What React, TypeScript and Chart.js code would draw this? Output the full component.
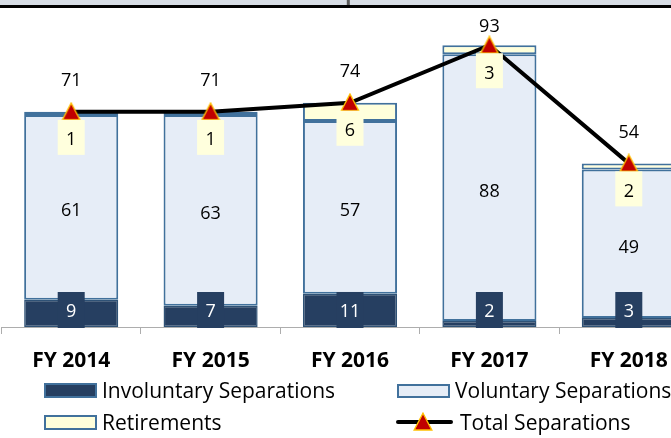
import React, { useEffect, useRef } from "react";
import { Chart, registerables } from "chart.js";

Chart.register(...registerables);

// ---------- data ----------
const categories = ["FY 2014", "FY 2015", "FY 2016", "FY 2017", "FY 2018"];
const involuntary = [9, 7, 11, 2, 3];
const voluntary = [61, 63, 57, 88, 49];
const retirements = [1, 1, 6, 3, 2];
const totals = [71, 71, 74, 93, 54];
const seriesNames = [
  "Involuntary Separations",
  "Voluntary Separations",
  "Retirements",
  "Total Separations",
];
const titleText = "Total Separations";

// ---------- styles ----------
const NAVY = "#263F61";
const VOL_FILL = "#E6EDF7";
const RET_FILL = "#FFFFDB";
const BAR_BORDER = "#41719C";
const LABEL_BOX_YELLOW = "#FFFFDD";
const MARKER_RED = "#C00000";
const MARKER_GOLD = "#FFC000";
const AXIS_GRAY = "#ADADAD";
const FONT = '"Open Sans", "DejaVu Sans", sans-serif';
const TXT_DY = 2;

function makeMarker(): HTMLCanvasElement {
  const c = document.createElement("canvas");
  c.width = 20;
  c.height = 20;
  const g = c.getContext("2d")!;
  g.beginPath();
  g.moveTo(10, 1.2);
  g.lineTo(18.8, 18);
  g.lineTo(1.2, 18);
  g.closePath();
  g.fillStyle = MARKER_RED;
  g.fill();
  g.lineWidth = 1.4;
  g.strokeStyle = MARKER_GOLD;
  g.lineJoin = "miter";
  g.stroke();
  return c;
}

const overlayPlugin = {
  id: "overlay",
  afterDatasetsDraw(chart: any) {
    const ctx: CanvasRenderingContext2D = chart.ctx;
    const area = chart.chartArea;
    ctx.save();
    ctx.textAlign = "center";
    ctx.textBaseline = "middle";
    ctx.font = `18px ${FONT}`;

    const m0 = chart.getDatasetMeta(0);
    const m1 = chart.getDatasetMeta(1);
    const m2 = chart.getDatasetMeta(2);
    const m3 = chart.getDatasetMeta(3);

    // involuntary labels (navy boxes, white text)
    m0.data.forEach((el: any, i: number) => {
      const p = el.getProps(["x", "y", "base"], true);
      const ty = Math.min((p.y + p.base) / 2 + 1, p.base - 17);
      ctx.fillStyle = NAVY;
      ctx.fillRect(p.x - 13.5, ty - 18, 27, 36);
      ctx.fillStyle = "#FFFFFF";
      ctx.fillText(String(involuntary[i]), p.x, ty + TXT_DY);
    });

    // voluntary labels
    m1.data.forEach((el: any, i: number) => {
      const p = el.getProps(["x", "y", "base"], true);
      const ty = (p.y + p.base) / 2 + 2;
      ctx.fillStyle = "#000000";
      ctx.fillText(String(voluntary[i]), p.x, ty + TXT_DY);
    });

    // retirement labels (yellow boxes)
    m2.data.forEach((el: any, i: number) => {
      const p = el.getProps(["x", "y", "base"], true);
      const ty = p.y + 25.5;
      ctx.fillStyle = LABEL_BOX_YELLOW;
      ctx.fillRect(p.x - 13.5, ty - 17.5, 27, 35);
      ctx.fillStyle = "#000000";
      ctx.fillText(String(retirements[i]), p.x, ty + 1 + TXT_DY);
    });

    // total labels above points
    m3.data.forEach((el: any, i: number) => {
      const p = el.getProps(["x", "y"], true);
      const ty = Math.max(p.y - 33, area.top + 1);
      ctx.fillStyle = "#000000";
      ctx.fillText(String(totals[i]), p.x, ty + TXT_DY);
    });
    ctx.restore();
  },
  afterDraw(chart: any) {
    const ctx: CanvasRenderingContext2D = chart.ctx;
    const W = chart.width;
    ctx.save();
    // title band (cropped)
    ctx.fillStyle = "#D6DCE4";
    ctx.fillRect(0, 0, W, 5);
    ctx.save();
    ctx.beginPath();
    ctx.rect(0, 0, W, 5);
    ctx.clip();
    ctx.fillStyle = "#595959";
    ctx.font = `bold 20px ${FONT}`;
    ctx.textAlign = "center";
    ctx.textBaseline = "alphabetic";
    ctx.fillText(titleText, 354, -0.5);
    ctx.restore();
    ctx.fillStyle = "#000000";
    ctx.fillRect(0, 5, W, 3);

    // legend
    ctx.font = `21px ${FONT}`;
    ctx.textAlign = "left";
    ctx.textBaseline = "middle";
    ctx.lineWidth = 2;

    // Involuntary
    ctx.fillStyle = NAVY;
    ctx.fillRect(44, 383, 53, 15);
    ctx.strokeStyle = BAR_BORDER;
    ctx.strokeRect(45, 384, 51, 13);
    ctx.fillStyle = "#000000";
    ctx.fillText(seriesNames[0], 102, 390 + TXT_DY);

    // Voluntary
    ctx.fillStyle = VOL_FILL;
    ctx.fillRect(397, 384, 53, 14);
    ctx.strokeStyle = BAR_BORDER;
    ctx.strokeRect(398, 385, 51, 12);
    ctx.fillStyle = "#000000";
    ctx.fillText(seriesNames[1], 455, 390 + TXT_DY);

    // Retirements
    ctx.fillStyle = RET_FILL;
    ctx.fillRect(44, 415, 53, 15);
    ctx.strokeStyle = BAR_BORDER;
    ctx.strokeRect(45, 416, 51, 13);
    ctx.fillStyle = "#000000";
    ctx.fillText(seriesNames[2], 102, 422 + TXT_DY);

    // Total
    ctx.strokeStyle = "#000000";
    ctx.lineWidth = 4;
    ctx.lineCap = "round";
    ctx.beginPath();
    ctx.moveTo(398, 422);
    ctx.lineTo(451, 422);
    ctx.stroke();
    const mk = chart.$marker as HTMLCanvasElement;
    if (mk) ctx.drawImage(mk, 423 - 10, 422 - 10);
    ctx.fillStyle = "#000000";
    ctx.fillText(seriesNames[3], 460, 422 + TXT_DY);
    ctx.restore();
  },
};

export default function App() {
  const ref = useRef<HTMLCanvasElement>(null);
  useEffect(() => {
    const marker = makeMarker();
    const chart: any = new Chart(ref.current!, {
      type: "bar",
      data: {
        labels: categories,
        datasets: [
          {
            type: "bar",
            label: seriesNames[0],
            data: involuntary,
            backgroundColor: NAVY,
            borderColor: "#2F5276",
            borderWidth: 1.5,
            borderSkipped: false,
            stack: "bars",
            order: 1,
            barPercentage: 0.675,
            categoryPercentage: 1,
          },
          {
            type: "bar",
            label: seriesNames[1],
            data: voluntary,
            backgroundColor: VOL_FILL,
            borderColor: BAR_BORDER,
            borderWidth: 2,
            borderSkipped: false,
            stack: "bars",
            order: 1,
            barPercentage: 0.675,
            categoryPercentage: 1,
          },
          {
            type: "bar",
            label: seriesNames[2],
            data: retirements,
            backgroundColor: RET_FILL,
            borderColor: BAR_BORDER,
            borderWidth: 2,
            borderSkipped: false,
            stack: "bars",
            order: 1,
            barPercentage: 0.675,
            categoryPercentage: 1,
          },
          {
            type: "line",
            label: seriesNames[3],
            data: totals,
            borderColor: "#000000",
            borderWidth: 4,
            tension: 0,
            pointStyle: marker,
            pointRadius: 10,
            pointHoverRadius: 10,
            stack: "total",
            order: 0,
          } as any,
        ],
      },
      options: {
        animation: false,
        responsive: false,
        devicePixelRatio: 1,
        events: [],
        layout: {
          autoPadding: false,
          padding: { left: 1.5, right: 21.5, top: 24, bottom: 71 },
        },
        plugins: {
          legend: { display: false },
          tooltip: { enabled: false },
          title: { display: false },
        },
        scales: {
          x: {
            stacked: true,
            offset: true,
            afterFit: (s: any) => {
              s.height = 40;
              s.paddingLeft = 0;
              s.paddingRight = 0;
            },
            grid: {
              offset: true,
              drawOnChartArea: false,
              drawTicks: true,
              tickLength: 7,
              color: AXIS_GRAY,
              tickColor: AXIS_GRAY,
            },
            border: { display: true, color: AXIS_GRAY, width: 1 },
            ticks: {
              color: "#000000",
              padding: 14,
              font: { family: FONT, size: 21, weight: "bold" },
              maxRotation: 0,
              autoSkip: false,
            },
          },
          y: {
            stacked: true,
            display: false,
            min: 0,
            max: 100,
          },
        },
      },
      plugins: [overlayPlugin],
    });
    chart.$marker = marker;
    chart.draw();
    return () => chart.destroy();
  }, []);
  return (
    <div
      style={{
        position: "absolute",
        left: 0,
        top: 0,
        width: 671,
        height: 438,
        overflow: "hidden",
        background: "#ffffff",
      }}
    >
      <canvas
        ref={ref}
        width={720}
        height={438}
        style={{ display: "block", width: 720, height: 438 }}
      />
    </div>
  );
}
